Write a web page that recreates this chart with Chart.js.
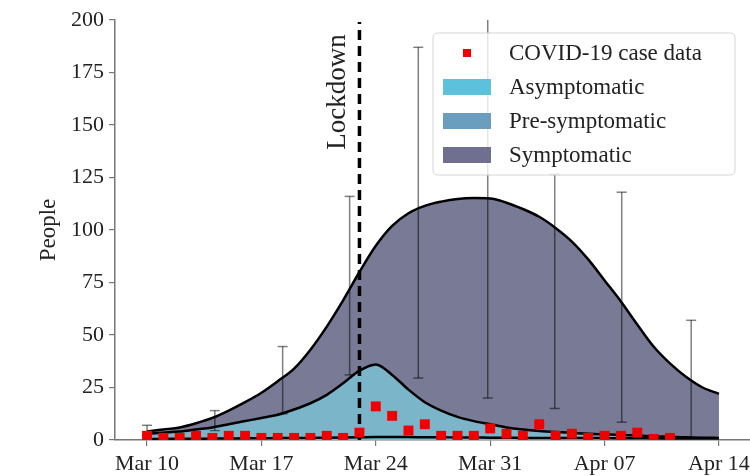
<!DOCTYPE html>
<html>
<head>
<meta charset="utf-8">
<script src="https://cdn.jsdelivr.net/npm/chart.js@4.4.1/dist/chart.umd.min.js"></script>
<style>
html, body { margin: 0; padding: 0; background: #fff; }
#wrap { width: 750px; height: 476px; }
</style>
</head>
<body>
<div id="wrap"><canvas id="myChart" width="750" height="476"></canvas></div>
<script>
// days counted from Mar 10
const days = [0, 1, 2, 3, 4, 5, 6, 7, 8, 9, 10, 11, 12, 13, 14, 15, 16, 17,
	18, 19, 20, 21, 22, 23, 24, 25, 26, 27, 28, 29, 30, 31, 32, 33, 34, 35];

// model compartments (stacked)
const asymptomatic = [0.5, 0.5, 0.6, 0.6, 0.7, 0.7, 0.8, 0.8, 0.9, 0.9, 1.0, 1.1, 1.2, 1.3, 1.4, 1.4, 1.4, 1.3,
	1.3, 1.2, 1.2, 1.1, 1.1, 1.0, 1.0, 1.0, 0.9, 0.9, 0.9, 0.8, 0.8, 0.8, 0.7, 0.7, 0.7, 0.7];
const presymptomatic = [2.5, 3.0, 3.4, 4.4, 5.3, 6.8, 8.2, 9.7, 11.1, 13.6, 16.5, 20.4, 25.8, 31.7, 34.6, 29.6, 22.6, 16.7,
	12.7, 9.8, 7.8, 6.4, 4.9, 4.0, 3.3, 2.8, 2.5, 2.1, 1.8, 1.6, 1.3, 1.0, 0.8, 0.6, 0.4, 0.3];
const symptomatic = [1, 1.5, 2, 3, 4.5, 6.5, 9, 12, 16, 19.5, 25.5, 32.5, 39.5, 47, 56.5, 71, 84, 93.5,
	99.5, 103.8, 106.2, 107.5, 107, 105, 102, 97.2, 91.1, 83, 73.3, 63.6, 52.9, 42.7, 35, 28.7, 23.9, 21];

// COVID-19 case data
const caseDays = [0, 1, 2, 3, 4, 5, 6, 7, 8, 9, 10, 11, 12, 13, 14, 15, 16,
	17, 18, 19, 20, 21, 22, 23, 24, 25, 26, 27, 28, 29, 30, 31, 32];
const caseCounts = [2, 1, 1, 2, 1, 2, 2, 1, 1, 1, 1, 2, 1, 3.5, 16, 11.5, 4.5,
	7.5, 2, 2, 2, 5.5, 3, 2, 7.5, 2, 3, 1, 2, 2, 3.5, 0.5, 1];

// error bars
const errDays = [0, 4.15, 8.3, 12.4, 16.6, 20.85, 24.95, 29.05, 33.3];
const errLow = [2.5, 4.5, 12.5, 31, 29.5, 20, 15, 8.5, 1];
const errHigh = [7, 14, 44.5, 116, 187, 204, 126.5, 118, 57];

const lockdownDay = 13; // Mar 23

const tickDays = [0, 7, 14, 21, 28, 35];
const tickLabels = ['Mar 10', 'Mar 17', 'Mar 24', 'Mar 31', 'Apr 07', 'Apr 14'];

const serif = "'Liberation Serif', 'Times New Roman', serif";
const textColor = '#222';
const axisColor = '#777';

const colAsym = 'rgb(94,196,222)';
const colPre = 'rgb(123,181,201)';
const colSymp = 'rgb(120,122,150)';

function toPoints(xs, ys) {
	return xs.map((x, i) => ({ x: x, y: ys[i] }));
}

// error bars as one broken line: low, high, gap
const errPoints = [];
errDays.forEach((d, i) => {
	errPoints.push({ x: d, y: errLow[i] });
	errPoints.push({ x: d, y: errHigh[i] });
	errPoints.push({ x: d, y: null });
});

// "Lockdown" text next to the dashed line
const lockdownLabel = {
	id: 'lockdownLabel',
	afterDatasetsDraw(chart) {
		const c = chart.ctx;
		const x = chart.scales.x.getPixelForValue(lockdownDay) - 22;
		c.save();
		c.translate(x, 92);
		c.rotate(-Math.PI / 2);
		c.font = "27px " + serif;
		c.fillStyle = textColor;
		c.textAlign = 'center';
		c.textBaseline = 'middle';
		c.fillText('Lockdown', 0, 0);
		c.restore();
	}
};

// legend box drawn inside the plot, like matplotlib's
const boxLegend = {
	id: 'boxLegend',
	afterDraw(chart) {
		const c = chart.ctx;
		const x0 = 433, y0 = 33, w = 302, h = 142, r = 5;
		c.save();
		c.beginPath();
		c.moveTo(x0 + r, y0);
		c.lineTo(x0 + w - r, y0);
		c.quadraticCurveTo(x0 + w, y0, x0 + w, y0 + r);
		c.lineTo(x0 + w, y0 + h - r);
		c.quadraticCurveTo(x0 + w, y0 + h, x0 + w - r, y0 + h);
		c.lineTo(x0 + r, y0 + h);
		c.quadraticCurveTo(x0, y0 + h, x0, y0 + h - r);
		c.lineTo(x0, y0 + r);
		c.quadraticCurveTo(x0, y0, x0 + r, y0);
		c.closePath();
		c.fillStyle = 'rgba(255,255,255,0.8)';
		c.fill();
		c.strokeStyle = '#d4d4d4';
		c.lineWidth = 1;
		c.stroke();

		const rows = [
			{ label: 'COVID-19 case data', marker: true, y: 53 },
			{ label: 'Asymptomatic', color: 'rgb(92,194,220)', y: 87 },
			{ label: 'Pre-symptomatic', color: 'rgb(106,158,190)', y: 121 },
			{ label: 'Symptomatic', color: 'rgb(111,112,143)', y: 155 }
		];
		c.font = "23px " + serif;
		c.textBaseline = 'middle';
		rows.forEach(row => {
			if (row.marker) {
				c.fillStyle = 'rgb(240,0,0)';
				c.fillRect(463, row.y - 4, 8, 8);
			} else {
				c.fillStyle = row.color;
				c.fillRect(443, row.y - 8, 48, 16);
			}
			c.fillStyle = textColor;
			c.fillText(row.label, 509, row.y + 1);
		});
		c.restore();
	}
};

const areaStyle = {
	stack: 'model',
	order: 2,
	borderColor: '#000',
	borderWidth: 2.5,
	pointRadius: 0,
	cubicInterpolationMode: 'monotone'
};

const ctx = document.getElementById('myChart').getContext('2d');
const chart = new Chart(ctx, {
	type: 'line',
	data: {
		datasets: [
			Object.assign({}, areaStyle, {
				label: 'Asymptomatic',
				data: toPoints(days, asymptomatic),
				fill: 'origin',
				backgroundColor: colAsym
			}),
			Object.assign({}, areaStyle, {
				label: 'Pre-symptomatic',
				data: toPoints(days, presymptomatic),
				fill: '-1',
				backgroundColor: colPre
			}),
			Object.assign({}, areaStyle, {
				label: 'Symptomatic',
				data: toPoints(days, symptomatic),
				fill: '-1',
				backgroundColor: colSymp
			}),
			{
				label: 'errors',
				data: errPoints,
				stack: 'errors',
				order: 1,
				fill: false,
				spanGaps: false,
				borderColor: 'rgba(0,0,0,0.5)',
				borderWidth: 1.5,
				pointStyle: 'line',
				pointRadius: 5,
				pointBorderColor: 'rgba(0,0,0,0.5)',
				pointBorderWidth: 1.5,
				tension: 0
			},
			{
				label: 'lockdown',
				data: [{ x: lockdownDay, y: 0 }, { x: lockdownDay, y: 199 }],
				stack: 'lockdown',
				order: 1,
				fill: false,
				borderColor: '#000',
				borderWidth: 3.5,
				borderDash: [10, 6],
				pointRadius: 0,
				tension: 0
			},
			{
				label: 'COVID-19 case data',
				data: toPoints(caseDays, caseCounts),
				stack: 'cases',
				order: 0,
				showLine: false,
				pointStyle: 'rect',
				pointRadius: 7,
				pointBackgroundColor: 'rgb(240,0,0)',
				pointBorderWidth: 0
			}
		]
	},
	options: {
		responsive: false,
		animation: false,
		layout: { autoPadding: false, padding: { top: 20, left: 0, right: 0, bottom: 0 } },
		plugins: {
			legend: { display: false },
			tooltip: { enabled: false }
		},
		scales: {
			x: {
				type: 'linear',
				min: -1.96,
				max: 36.9,
				afterBuildTicks: s => { s.ticks = tickDays.map(v => ({ value: v })); },
				afterFit: s => { s.height = 36; s.paddingLeft = 0; s.paddingRight = 0; },
				ticks: {
					callback: v => tickLabels[tickDays.indexOf(v)],
					font: { family: serif, size: 22 },
					color: textColor,
					padding: 5,
					maxRotation: 0,
					autoSkip: false
				},
				grid: { drawOnChartArea: false, drawTicks: true, tickLength: 6, color: axisColor, lineWidth: 1.2 },
				border: { display: true, color: axisColor, width: 1.5 }
			},
			y: {
				stacked: true,
				min: 0,
				max: 200,
				afterFit: s => { s.width = 115; s.paddingTop = 0; s.paddingBottom = 0; },
				ticks: {
					stepSize: 25,
					font: { family: serif, size: 22 },
					color: textColor,
					padding: 5
				},
				title: {
					display: true,
					text: 'People',
					font: { family: serif, size: 23 },
					color: textColor,
					padding: { top: 35, bottom: 0 }
				},
				grid: { drawOnChartArea: false, drawTicks: true, tickLength: 6, color: axisColor, lineWidth: 1.2 },
				border: { display: true, color: axisColor, width: 1.5 }
			}
		}
	},
	plugins: [lockdownLabel, boxLegend]
});
</script>
</body>
</html>
